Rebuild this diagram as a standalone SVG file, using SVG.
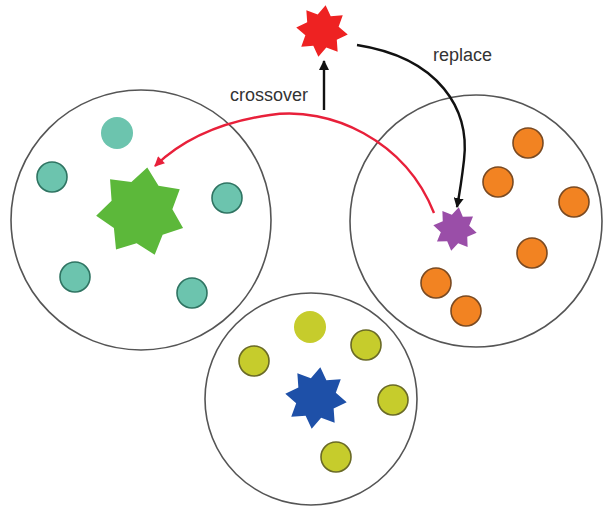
<svg xmlns="http://www.w3.org/2000/svg" width="608" height="508" viewBox="0 0 608 508">
  <style>
    .pop { fill: #ffffff; stroke: #555555; stroke-width: 1.6; }
    .teal { fill: #6cc4ae; stroke: #2f7462; stroke-width: 1.6; }
    .teal-soft { fill: #6cc4ae; }
    .orange { fill: #f28322; stroke: #7a4a22; stroke-width: 1.6; }
    .lime { fill: #c6cc2c; stroke: #6a6a26; stroke-width: 1.6; }
    .lime-soft { fill: #c6cc2c; }
    .label { font-family: "Liberation Sans", Arial, sans-serif; font-size: 18px; fill: #333333; }
    .link { fill: none; stroke-width: 2.4; }
  </style>
  <defs>
    <!-- unit stars, scaled into place -->
    <polygon id="star8" points="0,-1 0.253,-0.61 0.707,-0.707 0.61,-0.253 1,0 0.61,0.253 0.707,0.707 0.253,0.61 0,1 -0.253,0.61 -0.707,0.707 -0.61,0.253 -1,0 -0.61,-0.253 -0.707,-0.707 -0.253,-0.61"/>
    <polygon id="star7" points="0,-1 0.304,-0.631 0.782,-0.623 0.682,-0.156 0.975,0.223 0.547,0.436 0.434,0.901 0,0.7 -0.434,0.901 -0.547,0.436 -0.975,0.223 -0.682,-0.156 -0.782,-0.623 -0.304,-0.631"/>
    <marker id="headBlack" viewBox="0 0 10 10" refX="9" refY="5" markerWidth="10" markerHeight="10" markerUnits="userSpaceOnUse" orient="auto">
      <path d="M0,0 L10,5 L0,10 Z" fill="#111111"/>
    </marker>
    <marker id="headRed" viewBox="0 0 10 10" refX="9" refY="5" markerWidth="11" markerHeight="10" markerUnits="userSpaceOnUse" orient="auto">
      <path d="M0,0 L10,5 L0,10 Z" fill="#e8203a"/>
    </marker>
  </defs>

  <!-- population A (teal) -->
  <g id="pop-left">
    <circle class="pop" cx="141" cy="220" r="130"/>
    <circle class="teal-soft" cx="117" cy="133" r="16"/>
    <circle class="teal" cx="52" cy="177" r="15"/>
    <circle class="teal" cx="227" cy="198" r="15"/>
    <circle class="teal" cx="75" cy="277" r="15"/>
    <circle class="teal" cx="192" cy="293" r="15"/>
    <use href="#star7" fill="#5cb83a" transform="translate(141,212) rotate(8) scale(45)"/>
  </g>

  <!-- population B (orange) -->
  <g id="pop-right">
    <circle class="pop" cx="476" cy="221" r="126"/>
    <circle class="orange" cx="528" cy="143" r="15"/>
    <circle class="orange" cx="498" cy="182" r="15"/>
    <circle class="orange" cx="574" cy="202" r="15"/>
    <circle class="orange" cx="532" cy="253" r="15"/>
    <circle class="orange" cx="436" cy="283" r="15"/>
    <circle class="orange" cx="466" cy="311" r="15"/>
    <use href="#star8" fill="#9a4ea8" transform="translate(455,229) rotate(10) scale(22)"/>
  </g>

  <!-- population C (lime) -->
  <g id="pop-bottom">
    <circle class="pop" cx="311" cy="399" r="106"/>
    <circle class="lime-soft" cx="310" cy="327" r="16"/>
    <circle class="lime" cx="366" cy="345" r="15"/>
    <circle class="lime" cx="254" cy="361" r="15"/>
    <circle class="lime" cx="393" cy="400" r="15"/>
    <circle class="lime" cx="336" cy="457" r="15"/>
    <use href="#star8" fill="#1e50a8" transform="translate(316,398) rotate(8) scale(31)"/>
  </g>

  <!-- offspring -->
  <g id="offspring">
    <use href="#star8" fill="#ee2222" transform="translate(322,31) rotate(8) scale(26)"/>
  </g>

  <!-- connectors -->
  <g id="connectors">
    <path class="link" d="M324,110 L324,61" stroke="#111111" marker-end="url(#headBlack)"/>
    <path class="link" d="M357,45 C440,58 470,110 464,160 Q461,186 457,207" stroke="#111111" marker-end="url(#headBlack)"/>
    <path class="link" d="M434,213 C405,140 330,106 270,115 C220,122 182,140 155,166" stroke="#e8203a" marker-end="url(#headRed)"/>
  </g>

  <g id="labels">
    <text class="label" x="230" y="101">crossover</text>
    <text class="label" x="433" y="61">replace</text>
  </g>
</svg>
